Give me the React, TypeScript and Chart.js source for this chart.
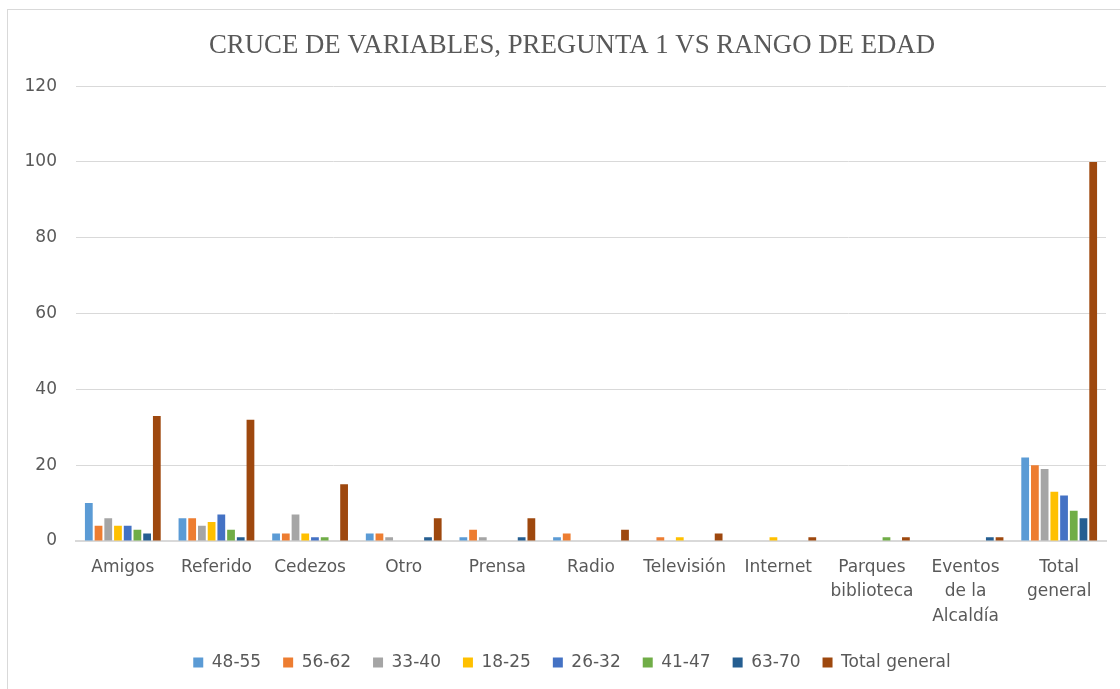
import React, { useEffect, useRef } from "react";
import { Chart, registerables } from "chart.js";

Chart.register(...registerables);

const categories: (string | string[])[] = [
  "Amigos",
  "Referido",
  "Cedezos",
  "Otro",
  "Prensa",
  "Radio",
  "Televisión",
  "Internet",
  ["Parques", "biblioteca"],
  ["Eventos", "de la", "Alcaldía"],
  ["Total", "general"],
];

const seriesNames = ["48-55", "56-62", "33-40", "18-25", "26-32", "41-47", "63-70", "Total general"];
const seriesColors = ["#5B9BD5", "#ED7D31", "#A5A5A5", "#FFC000", "#4472C4", "#70AD47", "#255E91", "#9E480E"];

const s48_55 = [10, 6, 2, 2, 1, 1, 0, 0, 0, 0, 22];
const s56_62 = [4, 6, 2, 2, 3, 2, 1, 0, 0, 0, 20];
const s33_40 = [6, 4, 7, 1, 1, 0, 0, 0, 0, 0, 19];
const s18_25 = [4, 5, 2, 0, 0, 0, 1, 1, 0, 0, 13];
const s26_32 = [4, 7, 1, 0, 0, 0, 0, 0, 0, 0, 12];
const s41_47 = [3, 3, 1, 0, 0, 0, 0, 0, 1, 0, 8];
const s63_70 = [2, 1, 0, 1, 1, 0, 0, 0, 0, 1, 6];
const sTotal = [33, 32, 15, 6, 6, 3, 2, 1, 1, 1, 100];

const seriesValues = [s48_55, s56_62, s33_40, s18_25, s26_32, s41_47, s63_70, sTotal];

const yTicks = [0, 20, 40, 60, 80, 100, 120];

const sansFont = "'DejaVu Sans', 'Open Sans', sans-serif";

export default function App() {
  const ref = useRef<HTMLCanvasElement | null>(null);

  useEffect(() => {
    if (!ref.current) return;
    const chart = new Chart(ref.current, {
      type: "bar",
      data: {
        labels: categories,
        datasets: seriesNames.map((name, i) => ({
          label: name,
          data: seriesValues[i],
          backgroundColor: seriesColors[i],
          borderWidth: 0,
          categoryPercentage: 0.83,
          barPercentage: 0.8,
        })),
      },
      options: {
        animation: false,
        responsive: false,
        maintainAspectRatio: false,
        layout: { padding: { left: 0, right: 0, top: 0, bottom: 8 } },
        plugins: {
          title: {
            display: true,
            text: "CRUCE DE VARIABLES, PREGUNTA 1 VS RANGO DE EDAD",
            color: "#595959",
            font: { family: "'Liberation Serif', 'Times New Roman', serif", size: 26.8, weight: "normal" },
            padding: { top: 20, bottom: 24 },
          },
          legend: {
            position: "bottom",
            labels: {
              color: "#595959",
              font: { family: sansFont, size: 17 },
              boxWidth: 10,
              boxHeight: 10,
              padding: 22,
            },
          },
          tooltip: { enabled: false },
        },
        scales: {
          x: {
            grid: { display: false, drawTicks: false },
            border: { display: true, color: "#d9d9d9", width: 2 },
            ticks: {
              color: "#595959",
              font: { family: sansFont, size: 17, lineHeight: 1.45 },
              padding: 14,
              maxRotation: 0,
              autoSkip: false,
            },
            afterFit: (scale: any) => {
              scale.height = 91;
            },
          },
          y: {
            min: 0,
            max: 120,
            afterBuildTicks: (scale: any) => {
              scale.ticks = yTicks.map((v) => ({ value: v }));
            },
            grid: { color: "#d9d9d9", lineWidth: 1, drawTicks: false },
            border: { display: false },
            ticks: {
              color: "#595959",
              font: { family: sansFont, size: 17 },
              padding: 19,
            },
            afterFit: (scale: any) => {
              scale.width = 68;
            },
          },
          yRight: {
            position: "right",
            min: 0,
            max: 120,
            grid: { display: false, drawTicks: false },
            border: { display: false },
            ticks: { display: false },
            afterFit: (scale: any) => {
              scale.width = 30;
            },
          },
        },
      },
    });
    return () => chart.destroy();
  }, []);

  return (
    <div
      style={{
        position: "absolute",
        left: 7,
        top: 9,
        width: 1113,
        height: 680,
        overflow: "hidden",
      }}
    >
      <div
        style={{
          width: 1130,
          height: 690,
          border: "1px solid #d9d9d9",
          boxSizing: "border-box",
          background: "#fff",
        }}
      >
        <canvas ref={ref} width={1128} height={679} style={{ display: "block" }} />
      </div>
    </div>
  );
}
